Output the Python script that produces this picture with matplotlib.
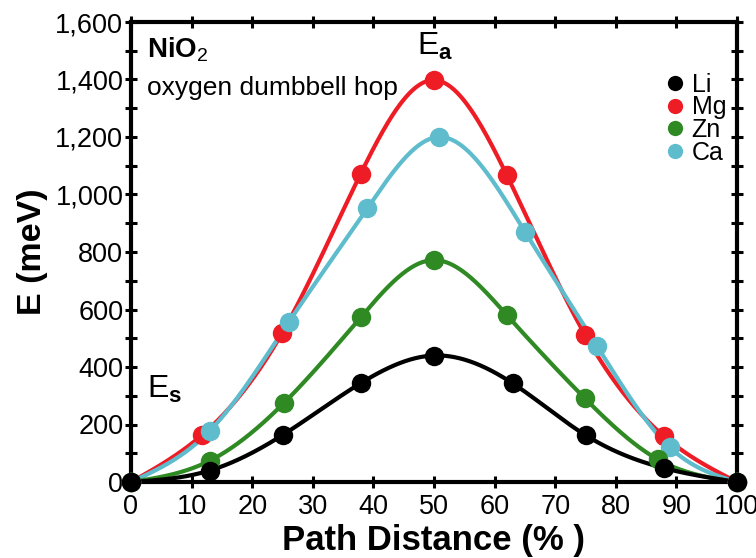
import numpy as np
import matplotlib
matplotlib.use("Agg")
import matplotlib.pyplot as plt
from matplotlib.lines import Line2D
from matplotlib.ticker import FuncFormatter, MultipleLocator

plt.rcParams['font.family'] = ['Liberation Sans', 'DejaVu Sans']
plt.rcParams['mathtext.fontset'] = 'custom'
plt.rcParams['mathtext.rm'] = 'Liberation Sans'
plt.rcParams['mathtext.bf'] = 'Liberation Sans:bold'
plt.rcParams['mathtext.it'] = 'Liberation Sans:italic'

# ---- data ----
li_x = [0, 13, 25, 38, 50, 63, 75, 88, 100]
li_y = [0, 40, 163, 345, 440, 343, 163, 48, 0]
mg_x = [0, 11.7, 24.9, 37.9, 50, 62, 74.9, 87.9, 100]
mg_y = [0, 163, 517, 1072, 1398, 1068, 513, 160, 0]
zn_x = [0, 13, 25.2, 38, 50, 62, 74.9, 86.9, 100]
zn_y = [0, 74, 274, 575, 772, 581, 291, 79, 0]
ca_x = [0, 13, 26, 39, 50.8, 65, 76.9, 88.9, 100]
ca_y = [0, 178, 555, 952, 1200, 871, 473, 121, 0]

series_names = ['Li', 'Mg', 'Zn', 'Ca']
colors = {'Li': '#000000', 'Mg': '#ee1c25', 'Zn': '#2f8a24', 'Ca': '#5ebccd'}
data = {'Li': (li_x, li_y), 'Mg': (mg_x, mg_y), 'Zn': (zn_x, zn_y), 'Ca': (ca_x, ca_y)}

x_ticks = [0, 10, 20, 30, 40, 50, 60, 70, 80, 90, 100]
y_ticks = [0, 200, 400, 600, 800, 1000, 1200, 1400, 1600]


def natural_spline(x, y, xs):
    x = np.asarray(x, float)
    y = np.asarray(y, float)
    n = len(x)
    h = np.diff(x)
    A = np.zeros((n, n))
    r = np.zeros(n)
    A[0, 0] = 1
    A[-1, -1] = 1
    for i in range(1, n - 1):
        A[i, i - 1] = h[i - 1]
        A[i, i] = 2 * (h[i - 1] + h[i])
        A[i, i + 1] = h[i]
        r[i] = 3 * ((y[i + 1] - y[i]) / h[i] - (y[i] - y[i - 1]) / h[i - 1])
    c = np.linalg.solve(A, r)
    b = (y[1:] - y[:-1]) / h - h * (2 * c[:-1] + c[1:]) / 3
    d = (c[1:] - c[:-1]) / (3 * h)
    idx = np.clip(np.searchsorted(x, xs) - 1, 0, n - 2)
    dx = xs - x[idx]
    return y[idx] + b[idx] * dx + c[idx] * dx ** 2 + d[idx] * dx ** 3


fig = plt.figure(figsize=(7.56, 5.58), dpi=100)
ax = fig.add_axes([131 / 756, 76 / 558, 606 / 756, 460 / 558])

xs = np.linspace(0, 100, 600)
for name in ['Mg', 'Ca', 'Zn', 'Li']:
    x, y = data[name]
    ax.plot(xs, natural_spline(x, y, xs), color=colors[name], lw=3.0,
            solid_capstyle='round', zorder=2)
    ax.plot(x, y, 'o', color=colors[name], ms=14, mec='none', zorder=3,
            clip_on=False)

ax.set_xlim(0, 100)
ax.set_ylim(0, 1600)
ax.set_xticks(x_ticks)
ax.set_yticks(y_ticks)
ax.yaxis.set_minor_locator(MultipleLocator(100))
ax.yaxis.set_major_formatter(FuncFormatter(lambda v, p: f"{int(v):,}"))

for s in ax.spines.values():
    s.set_linewidth(3)
ax.tick_params(which='both', direction='inout', length=9, width=2.2,
               top=True, right=True, labelsize=19.5, pad=1)
ax.tick_params(axis='x', pad=4)

ax.set_xlabel('Path Distance (% )', fontsize=25, fontweight='bold', labelpad=3)
ax.set_ylabel('E (meV)', fontsize=24.5, fontweight='bold', labelpad=5)

ax.text(2.6, 1475, r'$\mathbf{NiO}_{2}$', fontsize=20, va='baseline', ha='left')
ax.text(2.6, 1346, 'oxygen dumbbell hop', fontsize=19, va='baseline', ha='left')
ax.text(47.2, 1485, r'$\mathrm{E}_{\mathbf{a}}$', fontsize=23, va='baseline', ha='left')
ax.text(2.6, 291, r'$\mathrm{E}_{\mathbf{s}}$', fontsize=23, va='baseline', ha='left')

handles = [Line2D([], [], ls='none', marker='o', ms=11, mec='none',
                  color=colors[n]) for n in series_names]
ax.legend(handles, series_names, loc='upper right', bbox_to_anchor=(0.982, 0.89),
          frameon=False, fontsize=18, handlelength=0.8, handletextpad=0.25,
          labelspacing=-0.05, borderpad=0, borderaxespad=0)

fig.savefig('out.png', dpi=100)
